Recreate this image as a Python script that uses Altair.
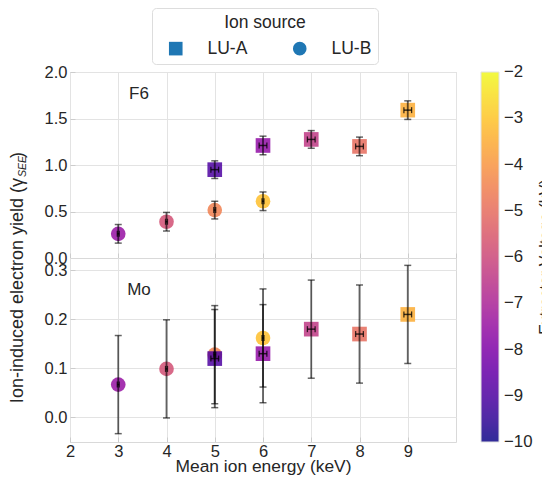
import altair as alt
import pandas as pd

# ---- data ----
energy = [3, 4, 5, 6, 5, 6, 7, 8, 9]
source = ["LU-B", "LU-B", "LU-B", "LU-B", "LU-A", "LU-A", "LU-A", "LU-A", "LU-A"]
voltage = [-7.5, -5.8, -4.5, -3.1, -9.0, -7.6, -6.4, -5.0, -3.5]
energy_err = [0.02, 0.02, 0.02, 0.02, 0.08, 0.08, 0.08, 0.08, 0.08]

f6_yield = [0.26, 0.39, 0.515, 0.61, 0.95, 1.21, 1.275, 1.20, 1.59]
f6_err = [0.10, 0.10, 0.095, 0.10, 0.095, 0.10, 0.095, 0.10, 0.10]

mo_yield = [0.067, 0.099, 0.128, 0.162, 0.12, 0.13, 0.18, 0.17, 0.21]
mo_err = [0.10, 0.10, 0.10, 0.10, 0.10, 0.10, 0.10, 0.10, 0.10]

x_ticks = [2, 3, 4, 5, 6, 7, 8, 9]
# end ticks nudged a hair inside so Vega centres their labels on the bar ends
cbar_ticks = [-9.999, -9, -8, -7, -6, -5, -4, -3, -2.001]

FONT = "Liberation Sans"
INK = "#262626"
W = 386

color_scale = alt.Scale(scheme="plasma", domain=[-10, -2])
shape_scale = alt.Scale(domain=["LU-A", "LU-B"], range=["square", "circle"])

color_legend = alt.Legend(
    title=None, orient="none", legendX=411, legendY=0,
    direction="vertical", gradientLength=370, gradientThickness=18,
    gradientStrokeColor="#dddddd", gradientStrokeWidth=1, values=cbar_ticks,
    format=".0f", labelFontSize=16.8, labelOffset=5, labelColor=INK,
)
shape_legend = alt.Legend(
    title="Ion source", orient="none", legendX=82, legendY=-64,
    direction="horizontal", titleAnchor="middle", titleFontSize=17.5,
    titleFontWeight="normal", titleColor=INK, labelFontSize=17.5, labelColor=INK,
    symbolSize=185, symbolFillColor="#1f77b4", symbolStrokeColor="#1f77b4",
    symbolStrokeWidth=0, symbolOpacity=1, symbolOffset=9, labelOffset=23,
    columnPadding=34, strokeColor="#dddddd", cornerRadius=4, padding=6,
    fillColor="white", titlePadding=8,
)


def text_layer(txt, x, y, **kw):
    return alt.Chart(pd.DataFrame({"t": [txt]})).mark_text(
        font=FONT, color=INK, baseline="middle", **kw
    ).encode(text="t:N", x=alt.value(x), y=alt.value(y))


def panel(yields, errs, ydomain, yvalues, label, label_y, height, bottom):
    df = pd.DataFrame({
        "energy": energy, "source": source, "voltage": voltage,
        "val": yields, "err": errs, "xerr": energy_err,
    })
    base = alt.Chart(df).transform_calculate(
        lo="datum.val - datum.err", hi="datum.val + datum.err",
        xlo="datum.energy - datum.xerr", xhi="datum.energy + datum.xerr",
    )
    xaxis = alt.Axis(
        values=x_ticks if bottom else x_ticks + [10], labels=bottom, labelFontSize=16.5,
        labelFlush=False, labelPadding=1, labelColor=INK,
        title="Mean ion energy (keV)" if bottom else None, titleFontSize=17.4,
        titleFontWeight="normal", titleColor=INK, titlePadding=-2,
        offset=-5, tickSize=5, domain=False, grid=True,
    )
    yaxis = alt.Axis(
        values=yvalues, format=".1f", labelFontSize=16.5, labelPadding=3,
        labelColor=INK, title=None, offset=-5, tickSize=5, domain=False, grid=True,
    )
    xs = alt.Scale(domain=[2, 10], nice=False)
    ys = alt.Scale(domain=ydomain, nice=False, zero=False)

    pts = base.mark_point(filled=True, opacity=0.85, size=215, strokeWidth=0).encode(
        x=alt.X("energy:Q", scale=xs, axis=xaxis),
        y=alt.Y("val:Q", scale=ys, axis=yaxis),
        color=alt.Color("voltage:Q", scale=color_scale, legend=color_legend),
        shape=alt.Shape("source:N", scale=shape_scale, legend=shape_legend),
    )
    ebar = base.mark_rule(color="black", opacity=0.62, strokeWidth=1.8).encode(
        x=alt.X("energy:Q", scale=xs, axis=xaxis),
        y=alt.Y("lo:Q", scale=ys, axis=yaxis), y2="hi:Q",
    )
    ecap = base.transform_fold(["lo", "hi"], as_=["end", "yv"]).mark_tick(
        orient="horizontal", color="black", opacity=0.6, size=7, thickness=1.5
    ).encode(
        x=alt.X("energy:Q", scale=xs, axis=xaxis),
        y=alt.Y("yv:Q", scale=ys, axis=yaxis),
    )
    xbar = base.mark_rule(color="black", opacity=0.75, strokeWidth=1.5).encode(
        x=alt.X("xlo:Q", scale=xs, axis=xaxis), x2="xhi:Q",
        y=alt.Y("val:Q", scale=ys, axis=yaxis),
    )
    xcap = base.transform_fold(["xlo", "xhi"], as_=["end", "xv"]).mark_tick(
        orient="vertical", color="black", opacity=0.75, size=6, thickness=1.3
    ).encode(
        x=alt.X("xv:Q", scale=xs, axis=xaxis),
        y=alt.Y("val:Q", scale=ys, axis=yaxis),
    )
    layers = [pts, ebar, ecap, xbar, xcap,
              text_layer(label, 69, label_y, fontSize=17, align="center")]
    if not bottom:
        layers += [
            text_layer("Ion-induced electron yield (γ", -52, 106, fontSize=18, angle=270, align="right"),
            text_layer("SEE", -47.5, 105, fontSize=10.5, fontStyle="italic", angle=270, align="left"),
            text_layer(")", -52, 86, fontSize=18, angle=270, align="left"),
            text_layer("Extractor Voltage (kV)", 476, 185, fontSize=16, angle=270, align="center"),
        ]
    return alt.layer(*layers).properties(width=W, height=height)


top = panel(f6_yield, f6_err, [0, 2], [0, 0.5, 1.0, 1.5, 2.0], "F6", 22, 186, False)
bot = panel(mo_yield, mo_err, [-0.05, 0.325], [0, 0.1, 0.2, 0.3], "Mo", 32, 184, True)

chart = alt.vconcat(top, bot, spacing=0, bounds="flush").resolve_scale(
    x="independent", y="independent"
).properties(
    padding={"left": 0, "top": -1, "right": -13, "bottom": 0}, background="white"
).configure(font=FONT).configure_view(
    stroke="#d9d9d9", strokeWidth=1
).configure_axis(
    gridColor="#e3e3e3", gridWidth=1, tickColor="#cccccc", tickWidth=1
)

chart.save("out.html", embed_options={"renderer": "svg", "actions": False})
